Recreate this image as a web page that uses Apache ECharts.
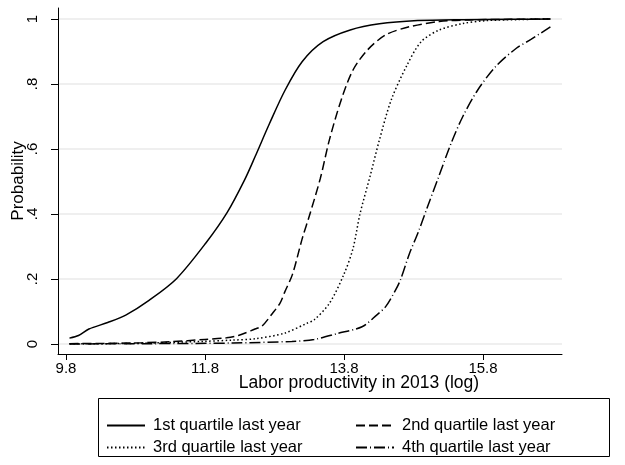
<!DOCTYPE html>
<html>
<head>
<meta charset="utf-8">
<script src="https://cdn.jsdelivr.net/npm/echarts@6/dist/echarts.min.js"></script>
<style>
  html, body { margin: 0; padding: 0; background: #fff; }
  #chart { width: 625px; height: 465px; }
</style>
</head>
<body>
<div id="chart"></div>
<script>
// Predicted probability by log labor productivity, one curve per quartile of last year
const seriesNames = ['1st quartile last year', '2nd quartile last year', '3rd quartile last year', '4th quartile last year'];

const xQ1 = [9.85, 9.98, 10.13, 10.40, 10.66, 11.00, 11.39, 11.81, 12.12, 12.37, 12.52, 12.73, 12.95, 13.20, 13.50, 13.89, 14.31, 14.86, 15.5, 16.2, 16.77];
const pQ1 = [0.018, 0.026, 0.046, 0.066, 0.089, 0.135, 0.201, 0.31, 0.405, 0.505, 0.576, 0.679, 0.78, 0.869, 0.93, 0.966, 0.985, 0.995, 0.998, 0.999, 1.0];

const xQ2 = [9.85, 10.4, 10.9, 11.3, 11.8, 12.11, 12.28, 12.52, 12.62, 12.77, 12.88, 12.95, 13.06, 13.20, 13.31, 13.46, 13.59, 13.76, 13.93, 14.14, 14.40, 14.74, 15.17, 15.6, 16.2, 16.77];
const pQ2 = [0.001, 0.002, 0.004, 0.007, 0.014, 0.019, 0.026, 0.046, 0.055, 0.094, 0.126, 0.161, 0.215, 0.325, 0.40, 0.51, 0.628, 0.751, 0.843, 0.905, 0.951, 0.976, 0.992, 0.997, 0.999, 1.0];

const xQ3 = [9.85, 10.8, 11.77, 12.2, 12.52, 12.94, 13.27, 13.37, 13.59, 13.80, 13.93, 14.03, 14.18, 14.31, 14.48, 14.70, 14.91, 15.17, 15.51, 15.85, 16.3, 16.77];
const pQ3 = [0.0005, 0.002, 0.008, 0.012, 0.016, 0.033, 0.064, 0.074, 0.125, 0.215, 0.294, 0.40, 0.52, 0.628, 0.751, 0.855, 0.93, 0.966, 0.986, 0.995, 0.998, 1.0];

const xQ4 = [9.85, 11.0, 12.2, 13.05, 13.37, 13.70, 14.06, 14.27, 14.40, 14.53, 14.61, 14.74, 14.87, 15.01, 15.16, 15.34, 15.51, 15.72, 15.98, 16.28, 16.49, 16.77];
const pQ4 = [0.0002, 0.001, 0.003, 0.008, 0.014, 0.032, 0.053, 0.089, 0.115, 0.161, 0.196, 0.277, 0.345, 0.427, 0.513, 0.617, 0.70, 0.78, 0.853, 0.91, 0.937, 0.976];

const xTicks = [9.8, 11.8, 13.8, 15.8];
const yTicks = [0, 0.2, 0.4, 0.6, 0.8, 1];
const yTickLabels = ['0', '.2', '.4', '.6', '.8', '1'];

const xTitle = 'Labor productivity in 2013 (log)';
const yTitle = 'Probability';

const pairs = (xs, ys) => xs.map((x, i) => [x, ys[i]]);
const dashStyles = ['solid', [9, 4], [1.5, 2.5], [11, 3, 1, 3]];
const curves = [pairs(xQ1, pQ1), pairs(xQ2, pQ2), pairs(xQ3, pQ3), pairs(xQ4, pQ4)];

const font = 'Liberation Sans, Arial, Helvetica, sans-serif';
const chart = echarts.init(document.getElementById('chart'), null, { renderer: 'canvas' });

// One legend entry per slot: two columns, two rows inside a framed box
const legendSlots = [[106, 417], [355, 417], [106, 439], [355, 439]];
const legends = seriesNames.map((name, i) => ({
  data: [name],
  left: legendSlots[i][0],
  top: legendSlots[i][1],
  padding: 0,
  itemWidth: 38, itemHeight: 14,
  itemStyle: { opacity: 0 },
  textStyle: { fontFamily: font, fontSize: 16.5, color: '#000', padding: [0, 0, 0, 3] },
  selectedMode: false
}));

chart.setOption({
  animation: false,
  backgroundColor: '#ffffff',
  grid: { left: 58, right: 63, top: 8, bottom: 111, containLabel: false },
  xAxis: {
    type: 'value',
    min: 9.685,
    max: 16.937,
    name: xTitle,
    nameLocation: 'middle',
    nameGap: 20,
    nameMoveOverlap: false,
    nameTextStyle: { fontFamily: font, fontSize: 17.5, color: '#000', padding: [0, 0, 0, 98] },
    axisLine: { show: true, onZero: false, lineStyle: { color: '#000', width: 1 } },
    axisTick: { show: true, length: 6, customValues: xTicks, lineStyle: { color: '#000' } },
    axisLabel: { customValues: xTicks, fontFamily: font, fontSize: 15, color: '#000', margin: 7,
                 formatter: v => v.toFixed(1) },
    splitLine: { show: false }
  },
  yAxis: {
    type: 'value',
    min: -0.0308,
    max: 1.0338,
    name: yTitle,
    nameLocation: 'middle',
    nameGap: 31,
    nameMoveOverlap: false,
    nameRotate: 90,
    nameTextStyle: { fontFamily: font, fontSize: 17, color: '#000' },
    axisLine: { show: true, onZero: false, lineStyle: { color: '#000', width: 1 } },
    axisTick: { show: true, length: 7, customValues: yTicks, lineStyle: { color: '#000' } },
    axisLabel: { customValues: yTicks, rotate: 90, fontFamily: font, fontSize: 15, color: '#000', margin: 18,
                 formatter: v => yTickLabels[yTicks.findIndex(t => Math.abs(t - v) < 1e-6)] },
    splitLine: { show: true, customValues: yTicks, lineStyle: { color: '#eaeaea', width: 1.5 } }
  },
  legend: legends,
  graphic: [{
    type: 'rect',
    shape: { x: 98.5, y: 398.5, width: 511, height: 58 },
    style: { fill: 'none', stroke: '#000', lineWidth: 1 },
    silent: true
  }],
  series: curves.map((d, i) => ({
    name: seriesNames[i],
    type: 'line',
    data: d,
    symbol: 'none',
    smooth: 0.3,
    lineStyle: { color: '#000', width: 1.5, type: dashStyles[i] },
    itemStyle: { color: '#000' },
    emphasis: { disabled: true }
  }))
});
</script>
</body>
</html>
